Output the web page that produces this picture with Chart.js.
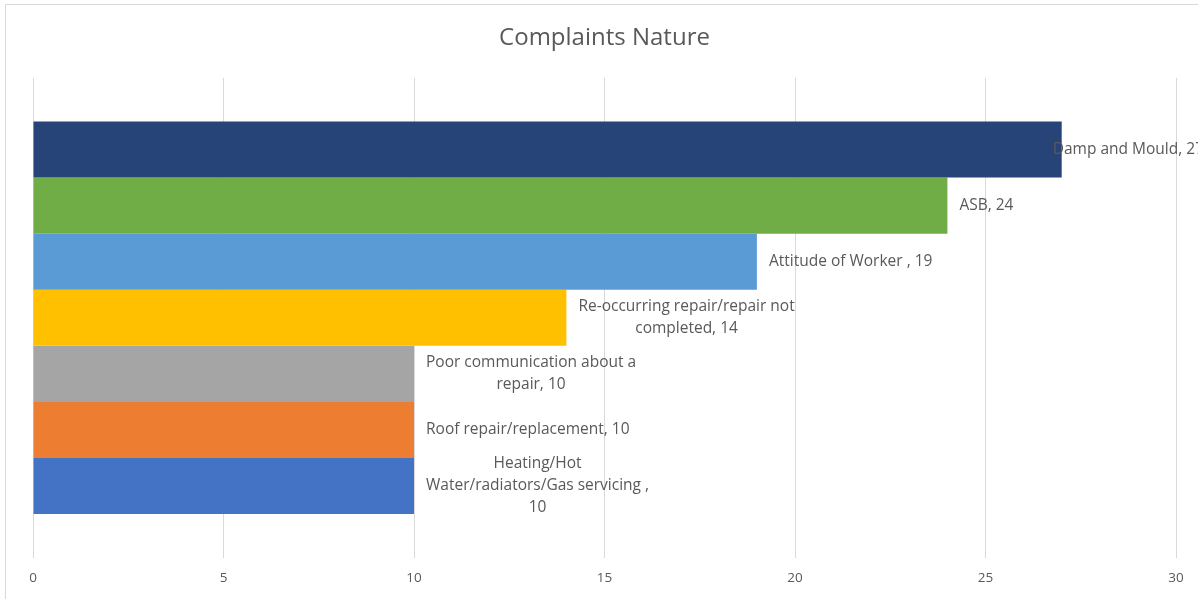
<!DOCTYPE html>
<html>
<head>
<meta charset="utf-8">
<script src="https://cdn.jsdelivr.net/npm/chart.js@4/dist/chart.umd.min.js"></script>
<style>
    html, body { margin: 0; padding: 0; background: #fff; overflow: hidden; }
    #wrap {
        position: absolute;
        left: 5px;
        top: 4px;
        width: 1200px;
        height: 600px;
        border: 1px solid #d9d9d9;
        background: #fff;
    }
    #complaints-chart { display: block; }
</style>
</head>
<body>
<div id="wrap"><canvas id="complaints-chart" width="1200" height="600"></canvas></div>
<script>
// Chart data
const categories = [
    'Damp and Mould',
    'ASB',
    'Attitude of Worker ',
    'Re-occurring repair/repair not completed',
    'Poor communication about a repair',
    'Roof repair/replacement',
    'Heating/Hot Water/radiators/Gas servicing '
];
const values = [27, 24, 19, 14, 10, 10, 10];
const barColors = ['#264478', '#70AD47', '#5B9BD5', '#FFC000', '#A5A5A5', '#ED7D31', '#4472C4'];
const xMin = 0;
const xMax = 30;
const xStep = 5;

const textColor = '#595959';
const fontFamily = "'Open Sans', 'Liberation Sans', sans-serif";
const labelFont = '15.5px ' + fontFamily;
const labelMaxWidth = 232;
const labelLineHeight = 22;

function wrapText(ctx, text, maxWidth) {
    const words = text.split(' ').filter(w => w.length > 0);
    const lines = [];
    let line = '';
    words.forEach(word => {
        const test = line ? line + ' ' + word : word;
        if (line && ctx.measureText(test).width > maxWidth) {
            lines.push(line);
            line = word;
        } else {
            line = test;
        }
    });
    if (line) lines.push(line);
    return lines;
}

// Data labels next to the bar ends: "Category, value"
const barLabels = {
    id: 'barLabels',
    afterDatasetsDraw(chart) {
        const ctx = chart.ctx;
        ctx.save();
        ctx.font = labelFont;
        ctx.fillStyle = textColor;
        ctx.textBaseline = 'middle';
        ctx.textAlign = 'center';
        chart.data.datasets.forEach((ds, i) => {
            const bar = chart.getDatasetMeta(i).data[0];
            if (!bar) return;
            const text = categories[i] + ', ' + values[i];
            const lines = wrapText(ctx, text, labelMaxWidth);
            const blockWidth = Math.max(...lines.map(l => ctx.measureText(l).width));
            let left = bar.x + 12;
            if (left + blockWidth > chart.width - 2) {
                left = chart.width - 2 - blockWidth;
            }
            const cx = left + blockWidth / 2;
            const startY = bar.y - (lines.length - 1) * labelLineHeight / 2;
            lines.forEach((l, k) => {
                ctx.fillText(l, cx, startY + k * labelLineHeight);
            });
        });
        ctx.restore();
    }
};

const datasets = categories.map((name, i) => ({
    label: name,
    data: [values[i]],
    backgroundColor: barColors[i],
    borderWidth: 0,
    categoryPercentage: 0.818,
    barPercentage: 1.0
}));

new Chart(document.getElementById('complaints-chart'), {
    type: 'bar',
    data: {
        labels: [''],
        datasets: datasets
    },
    options: {
        indexAxis: 'y',
        responsive: false,
        animation: false,
        layout: {
            padding: { left: 27, right: 30, top: 0, bottom: 7 }
        },
        plugins: {
            legend: { display: false },
            tooltip: { enabled: false },
            title: {
                display: true,
                text: 'Complaints Nature',
                color: textColor,
                font: { family: fontFamily, size: 24, weight: 'normal' },
                padding: { top: 19, bottom: 25 }
            }
        },
        scales: {
            x: {
                min: xMin,
                max: xMax,
                ticks: {
                    stepSize: xStep,
                    color: textColor,
                    font: { family: fontFamily, size: 13.5 },
                    padding: 12
                },
                grid: {
                    color: '#d9d9d9',
                    lineWidth: 1,
                    drawTicks: false
                },
                border: { display: false }
            },
            y: {
                display: false
            }
        }
    },
    plugins: [barLabels]
});
</script>
</body>
</html>
